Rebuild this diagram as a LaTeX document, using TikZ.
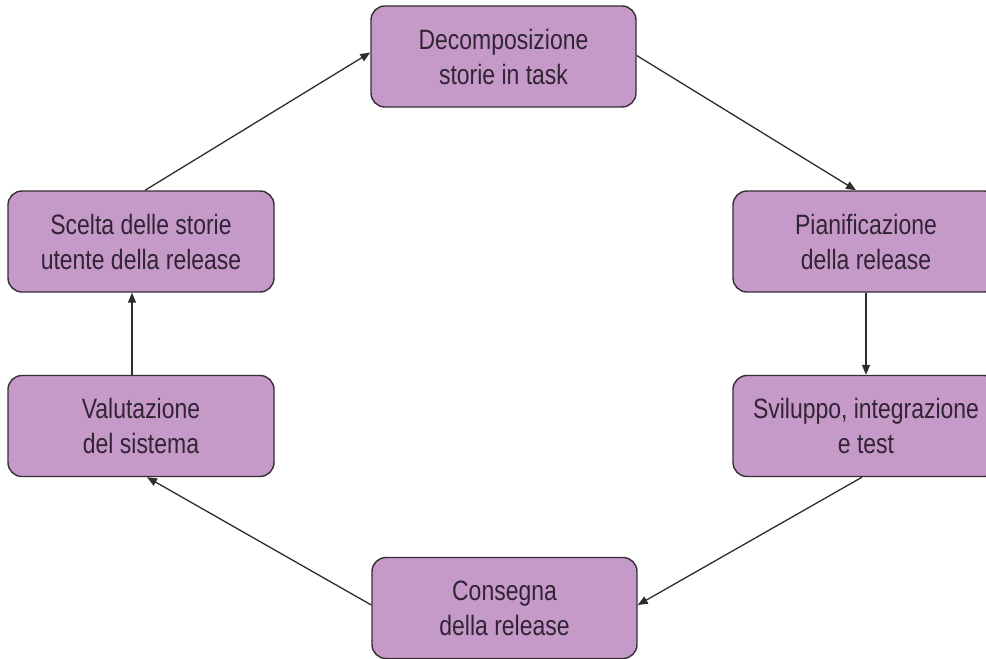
\documentclass[tikz,border=0pt]{standalone}
\usepackage{fontspec}
\setmainfont{Liberation Sans}[FakeStretch=0.82]
\usetikzlibrary{arrows.meta}
\definecolor{boxfill}{RGB}{197,154,201}
\definecolor{boxline}{RGB}{55,45,55}
\definecolor{txt}{RGB}{50,36,52}
\definecolor{arr}{RGB}{45,45,45}
\tikzset{
  stepbox/.style={draw=boxline, line width=1.4pt, fill=boxfill, rounded corners=14pt,
    minimum width=265pt, minimum height=101pt, inner sep=0pt, align=center,
    text=txt, font=\fontsize{28}{35}\selectfont},
  conn/.style={draw=arr, line width=1.3pt, -{Triangle[length=10pt,width=8pt]}}
}
\begin{document}
\begin{tikzpicture}[x=1pt,y=-1pt]
\clip (0,0) rectangle (986,659);
\fill[white] (0,0) rectangle (986,659);
\node[stepbox] (top) at (503.5,56.5) {Decomposizione\\storie in task};
\node[stepbox, minimum width=266pt] (ru) at (866,241.5) {Pianificazione\\della release};
\node[stepbox, minimum width=266pt] (rl) at (866,426) {Sviluppo, integrazione\\e test};
\node[stepbox] (bot) at (504.5,608) {Consegna\\della release};
\node[stepbox, minimum width=266pt] (ll) at (141,426) {Valutazione\\del sistema};
\node[stepbox, minimum width=266pt] (lu) at (141,241.5) {Scelta delle storie\\utente della release};
\draw[conn] ([xshift=4pt]lu.north) -- ([yshift=4pt]top.west);
\draw[conn] ([yshift=1pt]top.east) -- ([xshift=-10pt]ru.north);
\draw[conn] (ru.south) -- (rl.north);
\draw[conn] ([xshift=-4pt]rl.south) -- ([yshift=3pt]bot.east);
\draw[conn] ([yshift=3pt]bot.west) -- ([xshift=6pt]ll.south);
\draw[conn] ([xshift=-9pt]ll.north) -- ([xshift=-9pt]lu.south);
\end{tikzpicture}
\end{document}
